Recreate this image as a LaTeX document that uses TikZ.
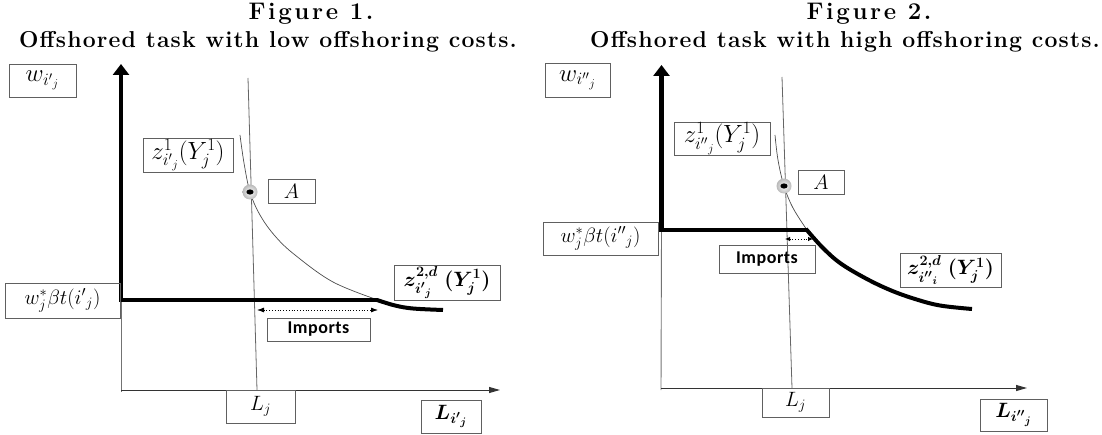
\documentclass[tikz,border=0pt]{standalone}
\usepackage{amsmath,bm}
\usepackage{fontspec}
\setmainfont{Latin Modern Roman}
\newfontfamily\calib{Carlito}
\usetikzlibrary{arrows.meta,shadings}
\begin{document}
\begin{tikzpicture}[x=1pt,y=-1pt,
  lbl/.style={draw=gray!75!black, line width=0.9pt, inner sep=0pt, font=\fontsize{21}{23}\selectfont},
  biglbl/.style={lbl, font=\fontsize{23}{25}\selectfont},
  impbox/.style={lbl, font=\calib\bfseries\fontsize{18}{20}\selectfont\addfontfeatures{LetterSpace=3}},
  titleone/.style={font=\fontsize{24}{26}\selectfont\bfseries\addfontfeatures{LetterSpace=11}, anchor=base, inner sep=0pt},
  titletwo/.style={font=\fontsize{23}{26}\selectfont\bfseries\addfontfeatures{LetterSpace=5}, anchor=base, inner sep=0pt},
  thincurve/.style={draw=black!70, line width=0.7pt},
  vline/.style={draw=black!60, line width=0.8pt},
  axisthin/.style={draw=black!55, line width=0.9pt},
  xaxis/.style={draw=black!80, line width=1pt, -{Triangle[width=6pt,length=11pt]}},
  thickaxis/.style={line width=4.5pt, line join=miter, {Triangle[width=16pt,length=11pt]}-},
  thickcurve/.style={line width=4pt, line cap=butt},
  marker/.style={circle, minimum size=15pt, inner sep=0pt, shading=radial, inner color=white, outer color=gray!55,
     path picture={\fill[black] (path picture bounding box.center) ellipse (3.6pt and 2.6pt);}},
  imparrow/.style={dotted, line width=0.8pt, {Latex[length=7pt,width=5pt]}-{Latex[length=7pt,width=5pt]}}
]
\useasboundingbox (0,0) rectangle (1102,435);

% ---------------- Titles ----------------
\node[titleone] (t1a) at (311,19.5) {Figure 1.};
\node[titletwo] (t1b) at (268,48) {Offshored task with low offshoring costs.};
\node[titleone] (t2a) at (869,19.5) {Figure 2.};
\node[titletwo] (t2b) at (845,48) {Offshored task with high offshoring costs.};

% ---------------- Figure 1 ----------------
\coordinate (o1) at (121,300);
\coordinate (top1) at (121,64);
\coordinate (k1) at (378,300);
\coordinate (ax1) at (121,390);
\coordinate (xe1) at (500,390);
\draw[axisthin] (o1) -- (121,392);
\draw[xaxis] (ax1) -- (xe1);
\draw[vline] (248,78) -- (257,390);
\draw[thincurve] plot[smooth, tension=0.6] coordinates {(240,135) (244,163) (250,192) (260,215) (275,236) (295,255) (333,282) (378,300)};
\draw[thickaxis] (top1) -- (o1) -- (k1);
\draw[thickcurve] plot[smooth, tension=0.6] coordinates {(377,300) (395,305.5) (413,308.5) (443,310)};
\coordinate (ia1) at (257,310);
\coordinate (ib1) at (378,310);
\draw[imparrow] (ia1) -- (ib1);
\node[marker] (m1) at (250,192) {};

\node[biglbl, minimum width=67pt, minimum height=33pt] (w1) at (42.5,80.5) {$w_{{i'}_j}$};
\node[biglbl, minimum width=90pt, minimum height=34pt] (z11) at (188,155) {$z^{1}_{{i'}_j}(Y^{1}_j)$};
\node[lbl, minimum width=47pt, minimum height=24pt] (A1) at (291.5,191) {$A$};
\node[lbl, minimum width=115pt, minimum height=35pt] (wb1) at (62.5,300.5) {$w^{*}_j\beta t({i'}_j)$};
\node[lbl, minimum width=106pt, minimum height=35pt] (z21) at (447,282.5) {$\bm{z^{2,d}_{{i'}_j}}\ \bm{(Y^{1}_j)}$};
\node[impbox, minimum width=103pt, minimum height=23pt] (imp1) at (318.5,329.5) {Imports};
\node[lbl, minimum width=69pt, minimum height=33pt] (Lj1) at (260.5,406.5) {$L_j$};
\node[lbl, minimum width=60pt, minimum height=33pt] (Li1) at (451,416.5) {$\bm{L_{{i'}_j}}$};

% ---------------- Figure 2 ----------------
\coordinate (o2) at (661.5,230);
\coordinate (top2) at (661.5,65);
\coordinate (k2) at (807,230);
\coordinate (ax2) at (661,388);
\coordinate (xe2) at (1027,388);
\draw[axisthin] (o2) -- (661,390);
\draw[xaxis] (ax2) -- (xe2);
\draw[vline] (782,77) -- (792,388);
\draw[thincurve] plot[smooth, tension=0.6] coordinates {(775,135) (778,160) (784,186) (793,208) (807,230)};
\draw[thickaxis] (top2) -- (o2) -- (k2);
\draw[thickcurve] plot[smooth, tension=0.6] coordinates {(806,229) (822,247) (840,263) (865,278) (890,290) (915,299) (940,305.5) (972,309)};
\coordinate (ia2) at (785,239);
\coordinate (ib2) at (813,239);
\draw[dotted, line width=0.8pt, {Latex[length=5pt,width=4.5pt]}-{Latex[length=5pt,width=4.5pt]}] (ia2) -- (ib2);
\node[marker] (m2) at (784,186) {};

\node[biglbl, minimum width=65pt, minimum height=34pt] (w2) at (577.5,80) {$w_{{i''}_j}$};
\node[biglbl, minimum width=96pt, minimum height=33pt] (z12) at (722,138.5) {$z^{1}_{{i''}_j}(Y^{1}_j)$};
\node[lbl, minimum width=46pt, minimum height=24pt] (A2) at (821,182) {$A$};
\node[lbl, minimum width=115pt, minimum height=33pt] (wb2) at (600.5,238.5) {$w^{*}_j\beta t({i''}_j)$};
\node[impbox, minimum width=96pt, minimum height=28pt] (imp2) at (767,259) {Imports};
\node[lbl, minimum width=101pt, minimum height=34pt] (z22) at (950.5,270) {$\bm{z^{2,d}_{{i''}_i}}\ \bm{(Y^{1}_j)}$};
\node[lbl, minimum width=67pt, minimum height=29pt] (Lj2) at (795.5,402.5) {$L_j$};
\node[lbl, minimum width=67pt, minimum height=32pt] (Li2) at (1013.5,415) {$\bm{L_{{i''}_j}}$};
\end{tikzpicture}
\end{document}
